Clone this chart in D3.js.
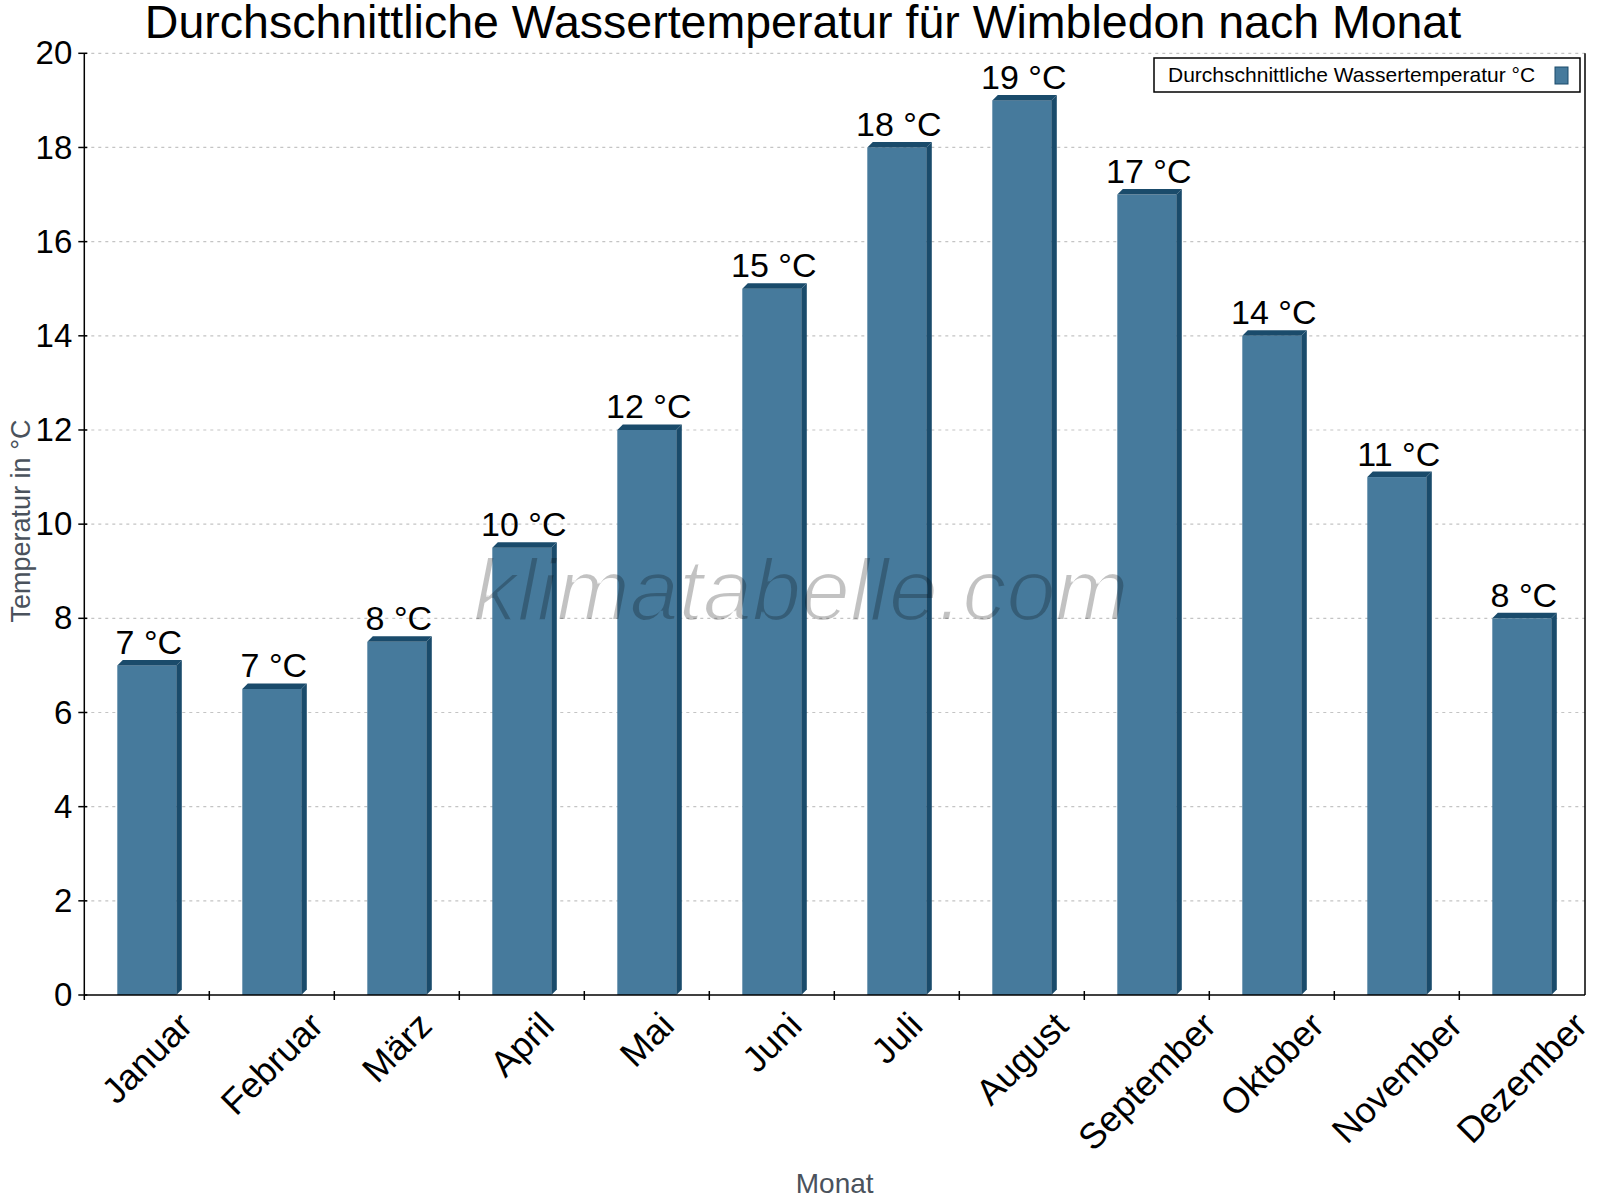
<html>
<head>
<meta charset="utf-8">
<style>
  body { margin: 0; background: #fff; }
  text { font-family: "Liberation Sans", Arial, sans-serif; }
</style>
</head>
<body>
<script src="https://d3js.org/d3.v7.min.js"></script>
<script type="text/javascript">
var months = ["Januar", "Februar", "März", "April", "Mai", "Juni", "Juli", "August", "September", "Oktober", "November", "Dezember"];
var temps = [7, 6.5, 7.5, 9.5, 12, 15, 18, 19, 17, 14, 11, 8];
var yTicks = [0, 2, 4, 6, 8, 10, 12, 14, 16, 18, 20];
var seriesName = "Durchschnittliche Wassertemperatur °C";

var W = 1600, H = 1200;
var plotL = 84.3, plotR = 1585, plotT = 53.3, plotB = 995;
var d = 5.5; // depth of the fake 3d
var front = "#467a9c", dark = "#1a4b6b";

var svg = d3.select("body").append("svg")
            .attr("width", W)
            .attr("height", H);

// thin down the watermark glyphs
svg.append("defs").append("filter").attr("id", "thin")
   .append("feMorphology").attr("operator", "erode").attr("radius", 1.4);

var x = d3.scaleBand().domain(months).range([plotL, plotL + 12 * 125]).paddingInner(0).paddingOuter(0);
var y = d3.scaleLinear().domain([0, 20]).range([plotB, plotT]);
var barW = x.bandwidth() * 0.472;

// grid
svg.append("g").selectAll("line")
   .data(yTicks.filter(function (t) { return t > 0; }))
   .enter().append("line")
   .attr("x1", plotL).attr("x2", plotR)
   .attr("y1", function (t) { return y(t); })
   .attr("y2", function (t) { return y(t); })
   .attr("stroke", "#c4c4c4")
   .attr("stroke-width", 1.2)
   .attr("stroke-dasharray", "3,4");

// bars
var bars = svg.append("g").selectAll("g")
              .data(temps)
              .enter().append("g");

function x0(v, i) { return x(months[i]) + (x.bandwidth() - barW) / 2; }

bars.append("rect")
    .attr("x", x0)
    .attr("y", function (v) { return y(v); })
    .attr("width", barW)
    .attr("height", function (v) { return plotB - y(v); })
    .attr("fill", front);

bars.append("path")
    .attr("fill", dark)
    .attr("d", function (v, i) {
        var a = x0(v, i), b = a + barW, t = y(v);
        return "M" + a + "," + t + "L" + (a + d) + "," + (t - d) + "L" + (b + d) + "," + (t - d) + "L" + b + "," + t + "Z";
    });

bars.append("path")
    .attr("fill", dark)
    .attr("d", function (v, i) {
        var b = x0(v, i) + barW, t = y(v);
        return "M" + b + "," + t + "L" + (b + d) + "," + (t - d) + "L" + (b + d) + "," + (plotB - d) + "L" + b + "," + plotB + "Z";
    });

bars.append("text")
    .attr("x", function (v, i) { return x(months[i]) + x.bandwidth() / 2 + 2; })
    .attr("y", function (v) { return y(v) - d - 6; })
    .attr("text-anchor", "middle")
    .attr("font-size", 34)
    .attr("fill", "#000")
    .text(function (v) { return Math.round(v) + " °C"; });

// axes
var yAxis = d3.axisLeft(y).tickValues(yTicks).tickSize(0).tickPadding(12);
var gy = svg.append("g").attr("transform", "translate(" + plotL + ",0)").call(yAxis);
gy.select(".domain").remove();
gy.selectAll("text").attr("font-size", 33).attr("fill", "#000")
  .attr("font-family", "'Liberation Sans', Arial, sans-serif");
svg.append("g").selectAll("line").data(yTicks).enter().append("line")
   .attr("x1", plotL - 6).attr("x2", plotL + 3)
   .attr("y1", function (t) { return y(t); }).attr("y2", function (t) { return y(t); })
   .attr("stroke", "#000").attr("stroke-width", 1.5);

svg.append("line").attr("x1", plotL).attr("x2", plotL).attr("y1", plotT).attr("y2", plotB)
   .attr("stroke", "#000").attr("stroke-width", 1.5);
svg.append("line").attr("x1", plotR).attr("x2", plotR).attr("y1", plotT).attr("y2", plotB)
   .attr("stroke", "#000").attr("stroke-width", 1.5);
svg.append("line").attr("x1", plotL).attr("x2", plotR).attr("y1", plotB).attr("y2", plotB)
   .attr("stroke", "#000").attr("stroke-width", 1.5);

// x ticks on band edges
svg.append("g").selectAll("line").data(months.slice(1)).enter().append("line")
   .attr("x1", function (m) { return x(m); }).attr("x2", function (m) { return x(m); })
   .attr("y1", plotB - 4).attr("y2", plotB + 5)
   .attr("stroke", "#000").attr("stroke-width", 1.5);
svg.append("line").attr("x1", plotL).attr("x2", plotL).attr("y1", plotB).attr("y2", plotB + 5)
   .attr("stroke", "#000").attr("stroke-width", 1.5);

// rotated month labels, box centred under band
var xl = svg.append("g").selectAll("text").data(months).enter().append("text")
   .attr("font-size", 36)
   .attr("fill", "#000")
   .attr("text-anchor", "middle")
   .attr("dominant-baseline", "central")
   .text(function (m) { return m; });
xl.each(function (m) {
    var w = this.getComputedTextLength();
    var half = (w + 34) * 0.7071 / 2;
    var cx = x(m) + x.bandwidth() / 2, cy = 1007 + half;
    d3.select(this).attr("x", cx).attr("y", cy)
      .attr("transform", "rotate(-45," + cx + "," + cy + ")");
});

// axis titles
svg.append("text").attr("x", (plotL + plotR) / 2).attr("y", 1193)
   .attr("text-anchor", "middle").attr("font-size", 28).attr("fill", "#4a525c")
   .text("Monat");
svg.append("text").attr("transform", "translate(30,521) rotate(-90)")
   .attr("text-anchor", "middle").attr("font-size", 27).attr("fill", "#4a525c")
   .text("Temperatur in °C");

// title
svg.append("text").attr("x", 803).attr("y", 38)
   .attr("text-anchor", "middle").attr("font-size", 46.5).attr("fill", "#000")
   .text("Durchschnittliche Wassertemperatur für Wimbledon nach Monat");

// legend
svg.append("rect").attr("x", 1154).attr("y", 58).attr("width", 426).attr("height", 34)
   .attr("fill", "#fff").attr("stroke", "#000").attr("stroke-width", 1.5);
svg.append("text").attr("x", 1168).attr("y", 82).attr("font-size", 21).attr("fill", "#000")
   .text(seriesName);
svg.append("rect").attr("x", 1555).attr("y", 67).attr("width", 13).attr("height", 17)
   .attr("fill", front).attr("stroke", dark).attr("stroke-width", 1);

// watermark
svg.append("text").attr("x", 801).attr("y", 620)
   .attr("text-anchor", "middle")
   .attr("font-family", "Roboto, Lato, sans-serif")
   .attr("font-weight", 300)
   .attr("font-style", "italic")
   .attr("font-size", 88)
   .attr("fill", "rgba(0,0,0,0.24)")
   .attr("filter", "url(#thin)")
   .text("klimatabelle.com");
</script>
</body>
</html>
